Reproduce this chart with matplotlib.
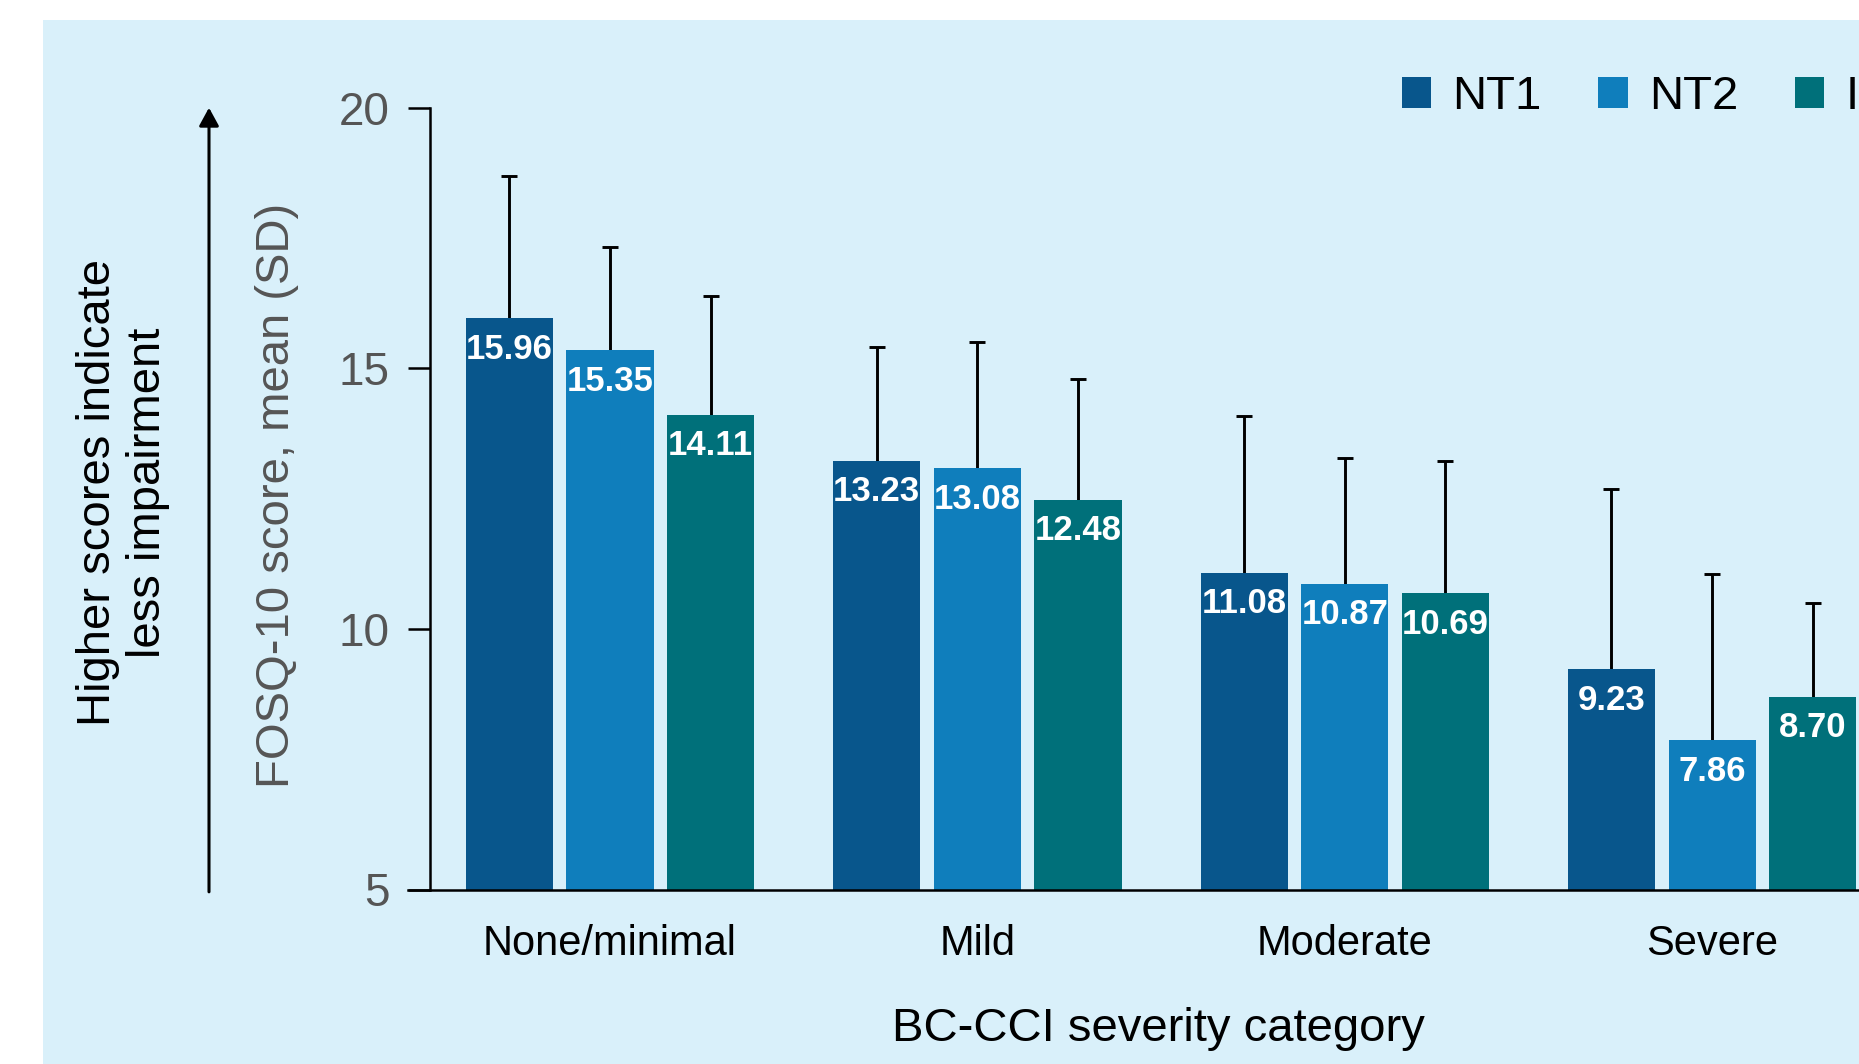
import numpy as np
import matplotlib
matplotlib.use("Agg")
import matplotlib.pyplot as plt
from matplotlib.patches import Rectangle, Patch
from matplotlib.transforms import blended_transform_factory

plt.rcParams['font.family'] = ['Liberation Sans', 'DejaVu Sans']

# FOSQ-10 score by BC-CCI severity category
categories = ["None/minimal", "Mild", "Moderate", "Severe"]
groups = ["NT1", "NT2", "IH"]
means = {
    "NT1": [15.96, 13.23, 11.08, 9.23],
    "NT2": [15.35, 13.08, 10.87, 7.86],
    "IH":  [14.11, 12.48, 10.69, 8.70],
}
sds = {
    "NT1": [2.73, 2.17, 3.01, 3.45],
    "NT2": [1.97, 2.43, 2.40, 3.20],
    "IH":  [2.28, 2.32, 2.53, 1.80],
}
colors = {"NT1": "#08568C", "NT2": "#0F7EBC", "IH": "#00707A"}
yticks = [5, 10, 15, 20]

W, H = 1859, 1064
fig = plt.figure(figsize=(W / 100, H / 100), dpi=100, facecolor="white")

# light blue panel behind everything
bg = "#D9F0FA"
fig.patches.append(Rectangle((43 / W, 0), 1 - 43 / W, 1 - 20 / H,
                             transform=fig.transFigure, facecolor=bg,
                             edgecolor="none", zorder=-10))

ax_left, ax_bottom = 430 / W, (H - 889.5) / H
ax_top = (H - 107.7) / H
ax = fig.add_axes([ax_left, ax_bottom, 1 - ax_left, ax_top - ax_bottom])
ax.set_facecolor("none")

x = np.arange(len(categories))
step = 0.274
width = 0.237
offsets = [-step, 0.0, step]

for g, off in zip(groups, offsets):
    xs = x + off
    m = np.array(means[g])
    s = np.array(sds[g])
    ax.bar(xs, m - 5, bottom=5, width=width, color=colors[g], label=g,
           zorder=2)
    eb = ax.errorbar(xs, m, yerr=[np.zeros_like(s), s], fmt="none",
                     ecolor="black", elinewidth=2.1, capsize=5.5,
                     capthick=2.1, zorder=1)
    # only the upper cap is shown
    eb[1][0].set_visible(False)
    for xi, mi in zip(xs, m):
        ax.annotate(f"{mi:.2f}", (xi, mi), xytext=(0, -22.5),
                    textcoords="offset points", ha="center", va="center",
                    color="white", fontsize=25, fontweight="bold",
                    zorder=3)

ax.set_xlim(-0.49, 3.40)
ax.set_ylim(5, 20)
ax.set_yticks(yticks)
ax.set_yticklabels([str(t) for t in yticks])
ax.set_xticks(x)
ax.set_xticklabels(categories, fontsize=30, color="black")
ax.tick_params(axis="x", length=0, pad=25)
ax.tick_params(axis="y", length=16, width=1.8, pad=13, labelsize=33,
               labelcolor="#555555", color="black")

for side in ["top", "right"]:
    ax.spines[side].set_visible(False)
ax.spines["left"].set_linewidth(1.8)
ax.spines["bottom"].set_linewidth(1.8)
ax.spines["bottom"].set_bounds(-0.49 - 22 / 367.3, 3.40)
ax.spines["bottom"].set_clip_on(False)

ax.set_xlabel("BC-CCI severity category", fontsize=34, color="black",
              labelpad=30)
ax.xaxis.set_label_coords(0.51, -0.150)
fig.text(277 / W, 1 - 495 / H, "FOSQ-10 score, mean (SD)", rotation=90,
         ha="center", va="center", fontsize=34, color="#555555")

fig.text(123 / W, 1 - 493 / H, "Higher scores indicate\nless impairment",
         rotation=90, ha="center", va="center", fontsize=34, color="black",
         linespacing=1.15)

# arrow spanning the y-axis range
trans = blended_transform_factory(fig.transFigure, ax.transAxes)
ax.annotate("", xy=(209 / W, 1.0), xytext=(209 / W, -0.003),
            xycoords=trans, textcoords=trans,
            arrowprops=dict(arrowstyle="-|>,head_length=1.1,head_width=0.6",
                            color="black", lw=2.2, shrinkA=0, shrinkB=0),
            annotation_clip=False)

handles = [Patch(facecolor=colors[g], edgecolor="none", label=g)
           for g in groups]
fig.legend(handles=handles, loc="center left",
           bbox_to_anchor=(1402 / W, 1 - 97 / H), ncol=3, frameon=False,
           fontsize=34, handlelength=0.62, handleheight=0.62,
           handletextpad=0.45, columnspacing=1.2, borderpad=0,
           borderaxespad=0)

fig.savefig("out.png", dpi=100, facecolor="white")
